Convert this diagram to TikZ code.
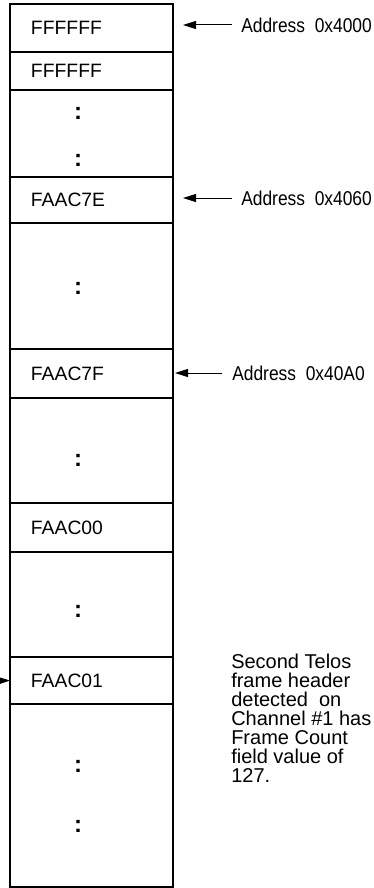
\documentclass[tikz,border=0pt]{standalone}
\usepackage{fontspec}
\setmainfont{Liberation Sans}
\newfontfamily\narrowfont[FakeStretch=0.87]{Liberation Sans}
\usetikzlibrary{
    arrows.meta,
    positioning
}
\tikzset{
    % --- One row of the frame buffer ---
    cell/.style = {
        rectangle, draw, line width=1.2pt,
        outer sep=0pt, inner ysep=0pt, inner xsep=15.75pt,
        minimum width=122.25pt, text width=90.75pt, align=left,
        font=\fontsize{14.5}{16}\selectfont
    },
    % --- Continuation marks inside a row ---
    gap mark/.style = {
        inner sep=0pt, font=\fontsize{18}{18}\selectfont\bfseries
    },
    % --- Address label (narrow type) ---
    addr/.style = {
        anchor=west, inner sep=0pt,
        font=\narrowfont\fontsize{15}{16}\selectfont
    },
    % --- Free annotation text ---
    annotation/.style = {
        anchor=north west, inner sep=0pt, align=left,
        font=\fontsize{15}{14.25}\selectfont
    },
    % --- Pointer arrow ---
    ptr/.style = {
        -{Triangle[length=9.75pt, width=6pt]}, line width=0.75pt
    }
}

\begin{document}
\begin{tikzpicture}[x=0.75pt, y=-0.75pt]

\useasboundingbox (0,0) rectangle (374,888);

% ---------------------------------------------------------
% Buffer rows
% ---------------------------------------------------------
\node[cell, minimum height=36pt, anchor=north west] (Row1) at (10,4) {FFFFFF};
\node[cell, minimum height=28.5pt,  below=0pt of Row1]  (Row2)  {FFFFFF};
\node[cell, minimum height=65.25pt, below=0pt of Row2]  (Row3)  {};
\node[cell, minimum height=34.5pt,  below=0pt of Row3]  (Row4)  {FAAC7E};
\node[cell, minimum height=94.5pt,  below=0pt of Row4]  (Row5)  {};
\node[cell, minimum height=36.75pt, below=0pt of Row5]  (Row6)  {FAAC7F};
\node[cell, minimum height=78.75pt, below=0pt of Row6]  (Row7)  {};
\node[cell, minimum height=36.75pt, below=0pt of Row7]  (Row8)  {FAAC00};
\node[cell, minimum height=78.75pt, below=0pt of Row8]  (Row9)  {};
\node[cell, minimum height=35.25pt, below=0pt of Row9]  (Row10) {FAAC01};
\node[cell, minimum height=137.25pt, below=0pt of Row10] (Row11) {};

% ---------------------------------------------------------
% Continuation marks
% ---------------------------------------------------------
\node[gap mark] (GapA) at (78,113) {:};
\node[gap mark] (GapB) at (78,160) {:};
\node[gap mark] (GapC) at (78,288) {:};
\node[gap mark] (GapD) at (78,460) {:};
\node[gap mark] (GapE) at (78,611) {:};
\node[gap mark] (GapF) at (78,766) {:};
\node[gap mark] (GapG) at (78,826) {:};

% ---------------------------------------------------------
% Addresses
% ---------------------------------------------------------
\node[addr] (AddrA) at (241,25)  {Address\ \ 0x4000};
\node[addr] (AddrB) at (241,198) {Address\ \ 0x4060};
\node[addr] (AddrC) at (232,373) {Address\ \ 0x40A0};

\draw[ptr, shorten <=6.75pt, shorten >=7.5pt] (AddrA.west) -- (AddrA.west -| Row1.east);
\draw[ptr, shorten <=6.75pt, shorten >=7.5pt] (AddrB.west) -- (AddrB.west -| Row4.east);
\draw[ptr, shorten <=7.5pt,  shorten >=1.5pt] (AddrC.west) -- (AddrC.west -| Row6.east);

% ---------------------------------------------------------
% Header detected on channel 1
% ---------------------------------------------------------
\coordinate (ChanIn) at (-20,681);
\draw[ptr] (ChanIn) -- (Row10.west);

\node[annotation] (Note) at (231,654) {%
    Second Telos\\
    frame header\\
    detected\ \ on\\
    Channel \#1 has\\
    Frame Count\\
    field value of\\
    127.
};

\end{tikzpicture}
\end{document}
